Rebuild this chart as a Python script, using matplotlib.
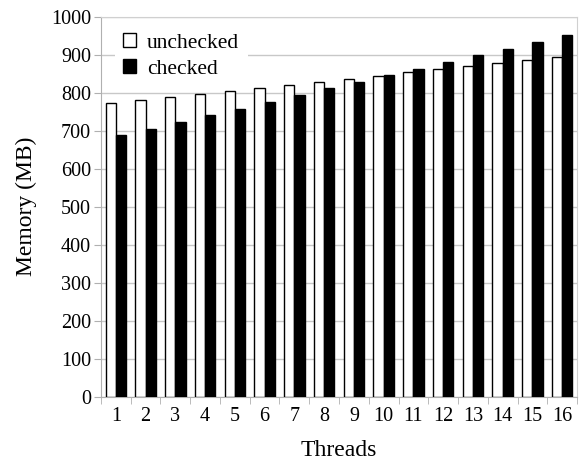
from matplotlib import pyplot as plt
import numpy as np

plt.rcParams['font.family'] = ['Liberation Serif', 'DejaVu Serif']

threads = np.arange(1, 17)
unchecked = [774, 782, 789, 797, 805, 813, 821, 829,
             837, 845, 854, 861, 869, 878, 886, 894]
checked = [688, 705, 723, 741, 758, 776, 794, 811,
           828, 846, 863, 881, 899, 916, 933, 952]

fig = plt.figure(figsize=(5.8, 4.61), dpi=100)
ax = fig.add_axes([0.174, 0.139, 0.821, 0.825])

w = 0.345  # width of one bar
ax.bar(threads - w/2, unchecked, w, color='white', edgecolor='black',
       linewidth=1, label='unchecked', zorder=3)
ax.bar(threads + w/2, checked, w, color='black', edgecolor='black',
       linewidth=1, label='checked', zorder=3)

ax.set_xlim(0.5, 16.5)
ax.set_ylim(0, 1000)
ax.set_yticks(np.arange(0, 1001, 100))
ax.set_xticks(threads)
ax.set_xticks(np.arange(0.5, 17, 1), minor=True)
ax.tick_params(axis='x', which='major', length=0, labelsize=14.5, pad=7)
ax.tick_params(axis='x', which='minor', length=5, color='#b0b0b0')
ax.tick_params(axis='y', length=5, color='#b0b0b0', labelsize=14.5, pad=2)
ax.yaxis.grid(True, color='#c8c8c8', linewidth=1, zorder=0)
ax.set_axisbelow(True)

for s in ['left', 'bottom']:
    ax.spines[s].set_color('#b0b0b0')
for s in ['top', 'right']:
    ax.spines[s].set_color('#d0d0d0')

ax.set_xlabel('Threads', fontsize=17, labelpad=10)
ax.set_ylabel('Memory (MB)', fontsize=17, labelpad=10)

leg = ax.legend(loc='upper left', bbox_to_anchor=(0.02, 0.99), frameon=True,
                fontsize=15.5, handlelength=0.6, handleheight=0.6,
                handletextpad=0.5, labelspacing=0.3, borderaxespad=0.2,
                fancybox=False)
leg.get_frame().set_edgecolor('none')
leg.get_frame().set_alpha(1)

fig.savefig('out.png', dpi=100)
